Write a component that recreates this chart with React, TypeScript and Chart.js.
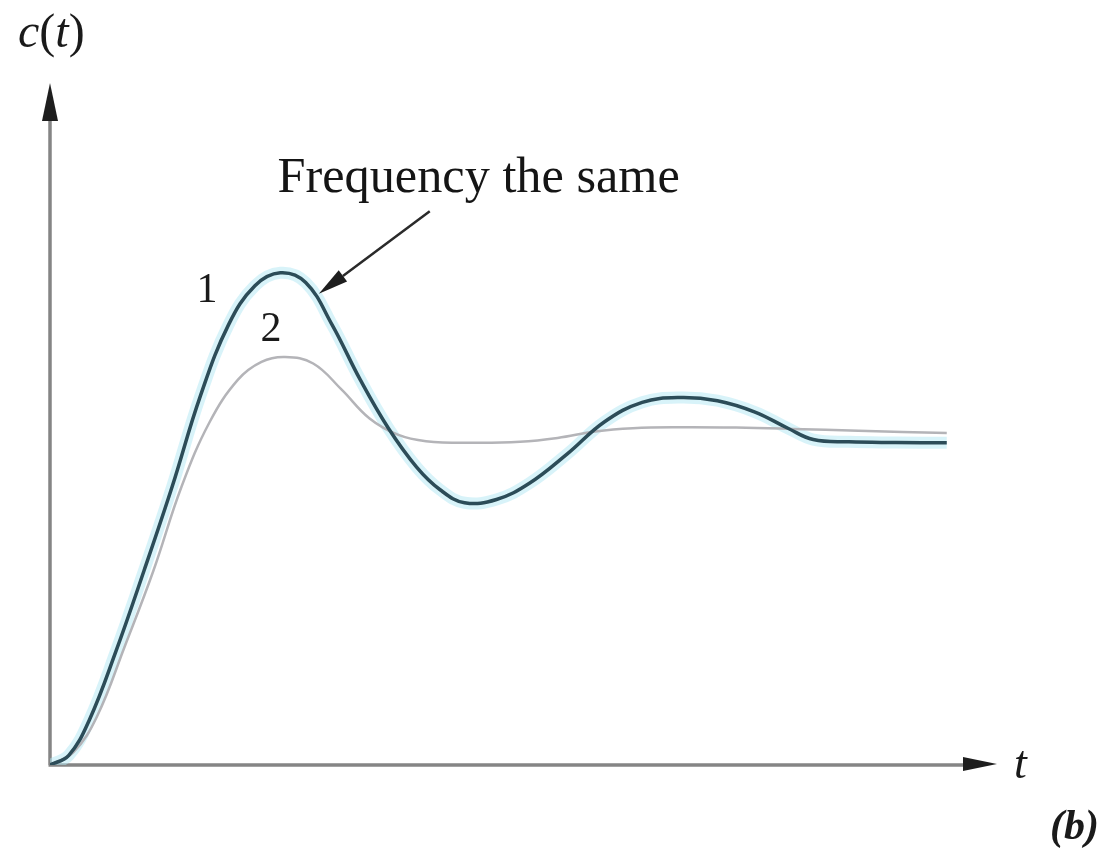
import { useEffect, useRef } from "react";
import { Chart, registerables } from "chart.js";

Chart.register(...registerables);

// Axis ranges (time t, response c(t))
const T_MIN = 0;
const T_MAX = 10;
const C_MIN = 0;
const C_MAX = 2.1;

// Response 1: lightly damped, large overshoot
const response1T = [0, 0.2, 0.42, 0.7, 1.0, 1.3, 1.6, 1.9, 2.18, 2.45, 2.72, 3.0, 3.3, 3.6, 3.9, 4.15, 4.41, 4.75, 5.1, 5.5, 5.9, 6.3, 6.7, 7.1, 7.5, 7.85, 8.12, 8.5, 9.0, 9.54];
const response1C = [0, 0.03, 0.14, 0.35, 0.6, 0.86, 1.14, 1.36, 1.48, 1.52, 1.49, 1.36, 1.19, 1.04, 0.92, 0.85, 0.81, 0.82, 0.87, 0.96, 1.06, 1.12, 1.135, 1.125, 1.09, 1.04, 1.005, 0.998, 0.996, 0.995];

// Response 2: same oscillation frequency, heavier damping
const response2T = [0, 0.25, 0.5, 0.8, 1.1, 1.4, 1.7, 2.0, 2.25, 2.5, 2.8, 3.1, 3.4, 3.7, 4.0, 4.5, 5.0, 5.4, 5.8, 6.2, 6.7, 7.3, 7.9, 8.6, 9.54];
const response2C = [0, 0.04, 0.15, 0.37, 0.6, 0.86, 1.06, 1.19, 1.245, 1.26, 1.24, 1.16, 1.07, 1.02, 1.0, 0.995, 0.998, 1.01, 1.03, 1.04, 1.043, 1.042, 1.038, 1.032, 1.025];

// Text drawn on the figure
const curveNames = ["1", "2"];
const calloutText = "Frequency the same";
// y-axis title as [text, italic] runs: c(t)
const yAxisTitle: [string, boolean][] = [["c", true], ["(", false], ["t", true], [")", false]];
const xAxisTitle = "t";
const panelLabel = "(b)";

const toPoints = (ts: number[], cs: number[]) => ts.map((t, i) => ({ x: t, y: cs[i] }));

const SERIF = '"Liberation Serif", "Times New Roman", serif';

const figurePlugin = {
  id: "figureDecor",
  beforeDatasetsDraw(chart: any) {
    const { ctx, chartArea: a } = chart;
    ctx.save();
    // axis lines
    ctx.strokeStyle = "#858585";
    ctx.lineWidth = 3.5;
    ctx.beginPath();
    ctx.moveTo(a.left, a.bottom);
    ctx.lineTo(a.left, a.top + 30);
    ctx.moveTo(a.left - 1.5, a.bottom);
    ctx.lineTo(a.right - 20, a.bottom);
    ctx.stroke();
    // arrowheads
    ctx.fillStyle = "#1e1e1e";
    ctx.beginPath();
    ctx.moveTo(a.left, a.top - 2);
    ctx.lineTo(a.left - 8, a.top + 36);
    ctx.lineTo(a.left + 8, a.top + 36);
    ctx.closePath();
    ctx.fill();
    ctx.beginPath();
    ctx.moveTo(a.right + 7, a.bottom - 1);
    ctx.lineTo(a.right - 27, a.bottom - 8);
    ctx.lineTo(a.right - 27, a.bottom + 6);
    ctx.closePath();
    ctx.fill();
    ctx.restore();
  },
  afterDraw(chart: any) {
    const { ctx, chartArea: a, scales } = chart;
    const px = (t: number) => scales.x.getPixelForValue(t);
    const py = (c: number) => scales.y.getPixelForValue(c);
    ctx.save();
    ctx.fillStyle = "#1a1a1a";
    ctx.textBaseline = "alphabetic";
    ctx.textAlign = "left";

    // y-axis title c(t): italic letters, upright parentheses
    let cx = 18;
    for (const [s, it] of yAxisTitle) {
      ctx.font = `${it ? "italic " : ""}48px ${SERIF}`;
      ctx.fillText(s, cx, 47);
      cx += ctx.measureText(s).width;
    }

    // x-axis title and panel label
    ctx.font = `italic 46px ${SERIF}`;
    ctx.fillText(xAxisTitle, a.right + 24, a.bottom + 13);
    ctx.font = `italic bold 42px ${SERIF}`;
    ctx.fillText(panelLabel, 1050, 839);

    // curve numbers
    ctx.font = `42px ${SERIF}`;
    ctx.textAlign = "center";
    ctx.fillText(curveNames[0], px(1.67), py(1.43));
    ctx.fillText(curveNames[1], px(2.35), py(1.31));

    // callout text, fitted to its span
    ctx.font = `50px ${SERIF}`;
    ctx.textAlign = "left";
    const tx = px(2.42), ty = py(1.77);
    const w = ctx.measureText(calloutText).width;
    const target = px(6.7) - tx;
    ctx.save();
    ctx.translate(tx, ty);
    ctx.scale(target / w, 1);
    ctx.fillStyle = "#151515";
    ctx.fillText(calloutText, 0, 0);
    ctx.restore();

    // callout arrow pointing at response 1
    const x0 = px(4.04), y0 = py(1.71);
    const x1 = px(2.86), y1 = py(1.455);
    const ang = Math.atan2(y1 - y0, x1 - x0);
    const headLen = 30, headW = 7;
    const bx = x1 - headLen * Math.cos(ang), by = y1 - headLen * Math.sin(ang);
    ctx.strokeStyle = "#2a2a2a";
    ctx.lineWidth = 2.5;
    ctx.beginPath();
    ctx.moveTo(x0, y0);
    ctx.lineTo(bx, by);
    ctx.stroke();
    ctx.fillStyle = "#1e1e1e";
    ctx.beginPath();
    ctx.moveTo(x1, y1);
    ctx.lineTo(bx + headW * Math.sin(ang), by - headW * Math.cos(ang));
    ctx.lineTo(bx - headW * Math.sin(ang), by + headW * Math.cos(ang));
    ctx.closePath();
    ctx.fill();
    ctx.restore();
  },
};

export default function App() {
  const canvasRef = useRef<HTMLCanvasElement | null>(null);

  useEffect(() => {
    const canvas = canvasRef.current;
    if (!canvas) return;
    const r1 = toPoints(response1T, response1C);
    const r2 = toPoints(response2T, response2C);
    const chart = new Chart(canvas, {
      type: "line",
      data: {
        datasets: [
          {
            label: "1",
            data: r1,
            borderColor: "#2c4c58",
            borderWidth: 3.5,
            pointRadius: 0,
            tension: 0.4,
            order: 1,
          },
          {
            label: "2",
            data: r2,
            borderColor: "#b4b4b8",
            borderWidth: 2.5,
            pointRadius: 0,
            tension: 0.4,
            order: 2,
          },
          {
            label: "halo",
            data: r1,
            borderColor: "rgba(178, 232, 244, 0.5)",
            borderWidth: 12,
            pointRadius: 0,
            tension: 0.4,
            order: 3,
          },
        ],
      },
      options: {
        responsive: false,
        animation: false,
        layout: { padding: { left: 50, right: 113, top: 85, bottom: 87 } },
        scales: {
          x: { type: "linear", min: T_MIN, max: T_MAX, display: false },
          y: { type: "linear", min: C_MIN, max: C_MAX, display: false },
        },
        plugins: {
          legend: { display: false },
          tooltip: { enabled: false },
        },
      },
      plugins: [figurePlugin],
    });
    return () => chart.destroy();
  }, []);

  return (
    <div style={{ position: "absolute", left: 0, top: 0, width: 1103, height: 852, background: "#fff" }}>
      <canvas ref={canvasRef} width={1103} height={852} />
    </div>
  );
}
